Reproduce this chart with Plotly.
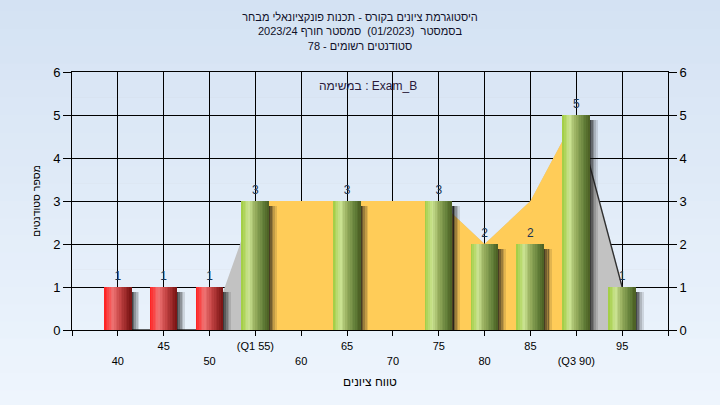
import plotly.graph_objects as go

# ---- data ----
categories = [40, 45, 50, 55, 60, 65, 70, 75, 80, 85, 90, 95]
counts = [1, 1, 1, 3, 0, 3, 0, 3, 2, 2, 5, 1]
area_values = [0, 0, 0, 3, 3, 3, 3, 3, 2, 3, 5, 1]
tick_labels = ["40", "45", "50", "(Q1 55)", "60", "65", "70", "75", "80", "85", "(Q3 90)", "95"]
q1 = 55
q3 = 90
y_max = 6

title_lines = [
    "היסטוגרמת ציונים בקורס - תכנות פונקציונאלי מבחר",
    "בסמסטר \u00a0(01/2023)\u00a0 סמסטר חורף 2023/24",
    "סטודנטים רשומים - 78",
]
x_title = "טווח ציונים"
y_title = "מספר סטודנטים"
note_text = "במשימה : Exam_B"

FONT = "Liberation Sans, DejaVu Sans, Arial, sans-serif"


def hex2rgb(h):
    h = h.lstrip("#")
    return tuple(int(h[i:i + 2], 16) for i in (0, 2, 4))


def grad(stops, t):
    for (t0, c0), (t1, c1) in zip(stops[:-1], stops[1:]):
        if t0 <= t <= t1:
            f = (t - t0) / (t1 - t0) if t1 > t0 else 0
            a, b = hex2rgb(c0), hex2rgb(c1)
            return "rgb(%d,%d,%d)" % tuple(round(a[k] + (b[k] - a[k]) * f) for k in range(3))
    return stops[-1][1]


red_stops = [(0, "#ff1c1c"), (0.32, "#f07474"), (0.6, "#c44444"), (1, "#781212")]
green_stops = [(0, "#9fcc3e"), (0.27, "#cce493"), (0.5, "#97ae5e"), (0.8, "#64803a"), (1, "#4a5e22")]

fig = go.Figure()

# background bands (page gradient)
n_bands = 24
for i in range(n_bands):
    t = i / (n_bands - 1)
    c = grad([(0, "#eef5fd"), (1, "#d4e2f3")], t)
    y0 = -0.3 + i * (1.6 / n_bands)
    fig.add_shape(type="rect", xref="paper", yref="paper", x0=-0.2, x1=1.2,
                  y0=y0, y1=y0 + 1.6 / n_bands + 0.002, fillcolor=c,
                  line=dict(width=0), layer="below")

# light grey area (outside quartiles)
fig.add_trace(go.Scatter(x=categories, y=area_values, mode="lines", fill="tozeroy",
                         fillcolor="#c2c2c2", line=dict(width=0), hoverinfo="skip",
                         showlegend=False, yaxis="y"))
# yellow area between Q1 and Q3
xin = [c for c in categories if q1 <= c <= q3]
yin = [v for c, v in zip(categories, area_values) if q1 <= c <= q3]
fig.add_trace(go.Scatter(x=xin, y=yin, mode="lines", fill="tozeroy",
                         fillcolor="#ffcc58", line=dict(width=0), hoverinfo="skip",
                         showlegend=False, yaxis="y"))
# dark outline outside quartile band
xl = [c if (c <= categories[2] or c >= q3) else None for c in categories]
yl = [v if (c <= categories[2] or c >= q3) else None for c, v in zip(categories, area_values)]
fig.add_trace(go.Scatter(x=xl, y=yl, mode="lines", line=dict(color="#303030", width=1.4),
                         connectgaps=False, hoverinfo="skip", showlegend=False, yaxis="y"))

W = 2.95
# shadows
sh_alpha = [0.78, 0.6, 0.42, 0.26, 0.12]
sw = 0.18
for i, a in enumerate(sh_alpha):
    fig.add_trace(go.Bar(x=categories, y=[max(c - 0.12, 0) for c in counts],
                         width=sw * 1.02, offset=W / 2 - 0.05 + i * sw,
                         marker=dict(color="rgba(20,20,20,%.2f)" % a, line=dict(width=0)),
                         hoverinfo="skip", showlegend=False, yaxis="y2"))

# gradient bars, sliced
N = 16
for i in range(N):
    t = (i + 0.5) / N
    cols = [grad(red_stops, t) if c < q1 else grad(green_stops, t) for c in categories]
    fig.add_trace(go.Bar(x=categories, y=counts, width=W / N * 1.08, offset=-W / 2 + i * W / N,
                         marker=dict(color=cols, line=dict(width=0)),
                         hoverinfo="skip", showlegend=False, yaxis="y2"))

# value labels
fig.add_trace(go.Scatter(x=categories, y=counts, mode="markers+text",
                         text=[str(c) if c > 0 else "" for c in counts],
                         textposition="top center",
                         textfont=dict(family=FONT, size=12, color="#1b3553"),
                         marker=dict(size=5, opacity=0), cliponaxis=False,
                         hoverinfo="skip", showlegend=False, yaxis="y2"))

ticktext = [("" if i % 2 else "<br>") + lab for i, lab in enumerate(tick_labels)]
tickvals = list(categories)
step = categories[1] - categories[0]
x_lo = categories[0] - step
x_hi = categories[-1] + step

fig.update_layout(
    width=720, height=405,
    margin=dict(l=72, r=52, t=72, b=75, autoexpand=False),
    paper_bgcolor="#e3edf8",
    plot_bgcolor="#b4b4b4",
    barmode="overlay",
    bargap=0,
    showlegend=False,
    font=dict(family=FONT, size=11, color="#000000"),
    title=dict(text="<br>".join(title_lines), x=0.5, xanchor="center",
               y=1 - 21 / 405, yanchor="top", yref="container",
               font=dict(family=FONT, size=11, color="#101028")),
    xaxis=dict(range=[x_lo, x_hi], tickmode="array",
               tickvals=[x_lo] + tickvals + [x_hi], ticktext=[" "] + ticktext + [" "],
               ticks="outside", ticklen=5, tickcolor="#000000",
               showgrid=True, gridcolor="#000000", gridwidth=1,
               showline=True, linecolor="#000000", mirror=True,
               tickfont=dict(family=FONT, size=11, color="#000000"),
               ticklabelstandoff=1, automargin=False,
               title=dict(text=x_title, font=dict(family=FONT, size=12, color="#000000"),
                          standoff=12),
               zeroline=False),
    yaxis=dict(range=[0, y_max], dtick=1, ticks="outside", ticklen=8, tickcolor="#000000",
               showgrid=True, gridcolor="#000000", gridwidth=1,
               showline=True, linecolor="#000000", automargin=False,
               tickfont=dict(family=FONT, size=13, color="#000000"),
               title=dict(text=y_title, font=dict(family=FONT, size=10.5, color="#000000"),
                          standoff=10),
               zeroline=False),
    yaxis2=dict(range=[0, y_max], dtick=1, overlaying="y", side="right",
                ticks="outside", ticklen=8, tickcolor="#000000",
                showgrid=False, showline=True, linecolor="#000000", automargin=False,
                tickfont=dict(family=FONT, size=13, color="#000000"),
                zeroline=False),
    annotations=[dict(text=note_text, xref="paper", yref="paper", x=0.497, y=0.946,
                      xanchor="center", yanchor="middle",
                      showarrow=False, font=dict(family=FONT, size=12, color="#2a1a3a"))],
)

fig.write_html("out.html", config={"displayModeBar": False},
               post_script="document.body.style.margin='0';")
